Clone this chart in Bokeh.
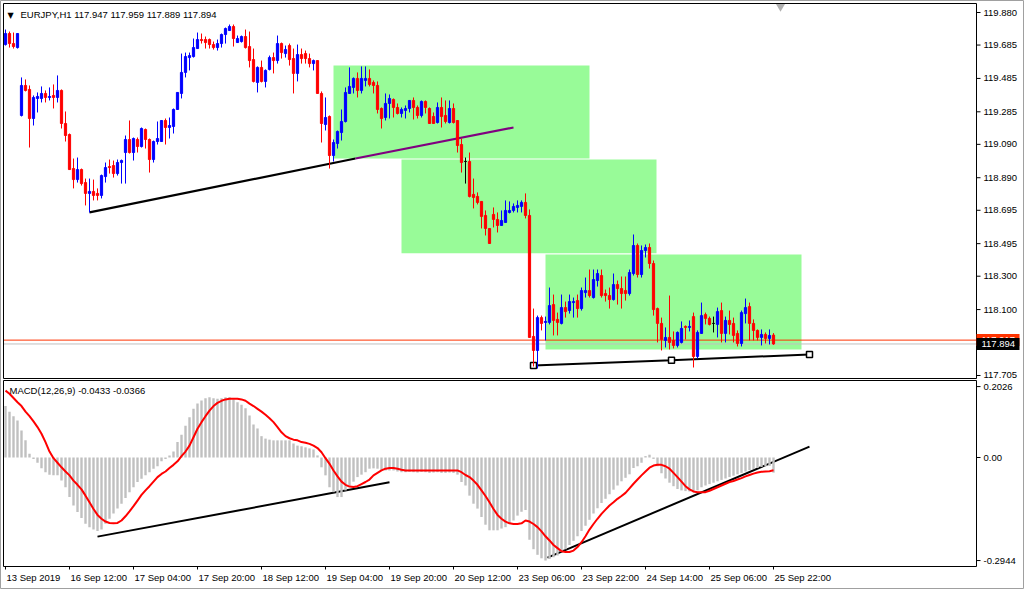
from bokeh.plotting import figure
from bokeh.models import Range1d, ColumnDataSource
from bokeh.core.properties import value
from bokeh.embed import file_html
from bokeh.resources import INLINE

FONT = "Liberation Sans"

# ---------------- data (H1 bars, index 0 = 13 Sep 2019 18:00) ----------------
opens = [119.688,119.754,119.694,119.670,119.263,119.443,119.419,119.245,119.365,119.365,
         119.395,119.371,119.383,119.371,119.413,119.215,119.149,118.945,118.879,118.939,
         118.861,118.796,118.808,118.796,118.784,118.897,118.957,118.963,118.915,118.981,
         119.041,119.119,119.041,119.119,119.077,119.179,119.119,118.999,119.107,119.107,
         119.233,119.191,119.197,119.299,119.395,119.521,119.610,119.616,119.664,119.718,
         119.718,119.718,119.688,119.670,119.694,119.748,119.772,119.796,119.700,119.706,
         119.736,119.676,119.598,119.461,119.551,119.467,119.539,119.610,119.592,119.694,
         119.634,119.682,119.604,119.515,119.628,119.634,119.604,119.574,119.592,119.395,
         119.209,119.257,119.023,119.095,119.161,119.227,119.395,119.431,119.485,119.413,
         119.473,119.485,119.461,119.443,119.305,119.251,119.335,119.359,119.311,119.275,
         119.293,119.305,119.353,119.311,119.263,119.347,119.305,119.257,119.221,119.311,
         119.263,119.221,119.305,119.233,119.089,118.987,118.987,118.790,118.778,118.748,
         118.664,118.586,118.670,118.640,118.604,118.622,118.682,118.694,118.712,118.718,
         118.742,118.664,117.939,117.855,118.052,118.023,118.023,118.130,118.041,118.017,
         118.112,118.094,118.142,118.154,118.106,118.202,118.214,118.172,118.274,118.304,
         118.196,118.184,118.160,118.250,118.226,118.214,118.196,118.316,118.484,118.310,
         118.454,118.472,118.376,118.106,118.017,117.915,117.933,117.915,117.885,117.903,
         117.999,117.993,118.058,117.819,117.957,118.070,118.047,118.017,118.011,118.094,
         117.957,118.035,118.017,117.957,117.897,118.076,118.118,118.017,117.975,117.933,
         117.951,117.927,117.947]
highs = [119.778,119.766,119.760,119.754,119.491,119.479,119.443,119.383,119.401,119.437,
         119.413,119.431,119.449,119.503,119.419,119.287,119.155,119.005,119.011,118.945,
         118.885,118.885,118.879,118.826,118.909,118.981,118.999,118.993,118.999,118.999,
         119.143,119.233,119.131,119.131,119.191,119.185,119.125,119.113,119.227,119.233,
         119.245,119.251,119.305,119.401,119.634,119.640,119.640,119.724,119.760,119.754,
         119.736,119.724,119.706,119.718,119.754,119.790,119.808,119.808,119.742,119.742,
         119.778,119.766,119.664,119.557,119.592,119.539,119.622,119.640,119.742,119.700,
         119.682,119.694,119.664,119.688,119.664,119.652,119.634,119.598,119.592,119.407,
         119.371,119.263,119.119,119.173,119.299,119.431,119.551,119.491,119.521,119.557,
         119.557,119.539,119.473,119.467,119.311,119.395,119.389,119.365,119.335,119.311,
         119.323,119.353,119.371,119.323,119.353,119.353,119.311,119.281,119.341,119.371,
         119.353,119.353,119.335,119.233,119.125,119.011,119.041,118.885,118.802,118.748,
         118.694,118.586,118.712,118.682,118.694,118.754,118.748,118.736,118.754,118.754,
         118.796,118.700,118.106,118.064,118.064,118.058,118.232,118.190,118.082,118.190,
         118.148,118.190,118.172,118.190,118.232,118.292,118.340,118.340,118.340,118.340,
         118.220,118.232,118.316,118.274,118.298,118.298,118.340,118.550,118.496,118.484,
         118.490,118.496,118.394,118.112,118.052,117.993,118.184,117.969,117.969,118.029,
         118.005,118.035,118.082,117.975,118.142,118.082,118.058,118.058,118.112,118.142,
         118.058,118.094,118.052,117.975,118.094,118.166,118.142,118.041,117.981,117.981,
         117.963,117.981,117.959]
lows = [119.682,119.670,119.664,119.664,119.257,119.407,119.071,119.203,119.281,119.341,
        119.341,119.353,119.305,119.341,119.185,119.107,118.939,118.826,118.861,118.843,
        118.724,118.682,118.754,118.754,118.766,118.861,118.915,118.891,118.903,118.855,
        118.855,119.035,118.993,119.041,119.071,119.065,118.921,118.981,119.089,119.107,
        119.089,119.125,119.155,119.299,119.365,119.491,119.533,119.610,119.664,119.694,
        119.664,119.664,119.658,119.652,119.670,119.694,119.772,119.676,119.700,119.700,
        119.664,119.551,119.461,119.401,119.461,119.431,119.533,119.515,119.574,119.604,
        119.610,119.562,119.395,119.467,119.574,119.574,119.551,119.533,119.395,119.101,
        119.173,118.945,118.987,119.065,119.113,119.221,119.395,119.395,119.371,119.395,
        119.437,119.437,119.395,119.275,119.185,119.233,119.245,119.251,119.269,119.251,
        119.245,119.281,119.239,119.245,119.251,119.275,119.215,119.215,119.215,119.191,
        119.215,119.215,119.215,119.041,118.921,118.855,118.772,118.706,118.730,118.586,
        118.544,118.496,118.592,118.562,118.604,118.622,118.676,118.682,118.682,118.682,
        118.646,117.933,117.759,117.747,117.975,117.915,118.011,117.945,117.945,118.011,
        118.052,118.076,118.052,118.052,118.094,118.172,118.172,118.166,118.238,118.172,
        118.148,118.106,118.154,118.130,118.106,118.154,118.184,118.304,118.292,118.292,
        118.412,118.346,118.064,117.903,117.855,117.873,117.861,117.867,117.873,117.897,
        117.921,117.969,117.753,117.807,117.957,118.011,118.005,117.963,117.933,117.903,
        117.903,117.951,117.903,117.879,117.879,118.017,117.915,117.915,117.915,117.885,
        117.897,117.891,117.889]
closes = [119.754,119.694,119.676,119.754,119.443,119.413,119.245,119.371,119.377,119.395,
          119.371,119.377,119.371,119.413,119.215,119.143,118.939,118.879,118.939,118.855,
          118.796,118.808,118.784,118.784,118.903,118.951,118.951,118.915,118.981,118.993,
          119.119,119.041,119.125,119.077,119.185,119.119,118.999,119.107,119.125,119.233,
          119.191,119.203,119.299,119.401,119.521,119.616,119.622,119.670,119.718,119.712,
          119.700,119.688,119.670,119.694,119.748,119.784,119.796,119.724,119.724,119.736,
          119.670,119.592,119.467,119.551,119.467,119.533,119.610,119.592,119.694,119.640,
          119.658,119.598,119.515,119.628,119.604,119.604,119.574,119.592,119.395,119.215,
          119.251,119.023,119.101,119.167,119.227,119.401,119.437,119.485,119.413,119.485,
          119.485,119.449,119.443,119.299,119.245,119.335,119.365,119.311,119.275,119.299,
          119.305,119.353,119.311,119.263,119.347,119.311,119.215,119.215,119.311,119.257,
          119.227,119.305,119.221,119.083,118.981,118.987,118.778,118.772,118.742,118.658,
          118.586,118.496,118.640,118.604,118.634,118.694,118.694,118.718,118.724,118.742,
          118.664,117.933,117.855,118.052,118.017,118.029,118.124,118.035,118.023,118.112,
          118.088,118.148,118.148,118.106,118.214,118.214,118.184,118.280,118.316,118.184,
          118.184,118.160,118.250,118.226,118.196,118.196,118.322,118.484,118.310,118.454,
          118.472,118.376,118.100,118.017,117.921,117.933,117.903,117.885,117.963,117.987,
          117.993,117.999,117.819,117.963,118.064,118.047,118.011,118.017,118.088,117.957,
          118.035,118.011,117.945,117.897,118.082,118.112,118.017,117.975,117.933,117.951,
          117.927,117.945,117.894]

macd_main = [0.147,0.131,0.118,0.106,0.077,0.049,0.011,-0.004,-0.015,-0.031,
             -0.042,-0.049,-0.051,-0.051,-0.066,-0.085,-0.113,-0.137,-0.156,-0.173,
             -0.189,-0.199,-0.206,-0.210,-0.206,-0.189,-0.175,-0.160,-0.146,-0.132,
             -0.116,-0.099,-0.085,-0.070,-0.061,-0.051,-0.042,-0.032,-0.025,-0.011,
             -0.004,0.006,0.017,0.044,0.065,0.091,0.115,0.139,0.154,0.163,
             0.169,0.172,0.169,0.168,0.169,0.172,0.172,0.166,0.158,0.151,
             0.141,0.120,0.094,0.083,0.061,0.054,0.051,0.049,0.049,0.049,
             0.049,0.049,0.040,0.034,0.032,0.029,0.026,0.023,0.006,-0.028,
             -0.051,-0.085,-0.099,-0.113,-0.113,-0.094,-0.080,-0.069,-0.056,-0.049,
             -0.042,-0.032,-0.031,-0.032,-0.037,-0.037,-0.037,-0.037,-0.040,-0.042,
             -0.042,-0.041,-0.042,-0.043,-0.041,-0.042,-0.044,-0.043,-0.042,-0.044,
             -0.044,-0.043,-0.044,-0.049,-0.070,-0.080,-0.109,-0.132,-0.146,-0.170,
             -0.192,-0.208,-0.208,-0.208,-0.203,-0.199,-0.189,-0.180,-0.166,-0.155,
             -0.150,-0.235,-0.262,-0.278,-0.288,-0.2944,-0.290,-0.285,-0.280,-0.270,
             -0.262,-0.250,-0.238,-0.225,-0.210,-0.195,-0.178,-0.160,-0.145,-0.130,
             -0.118,-0.105,-0.092,-0.080,-0.068,-0.058,-0.048,-0.030,-0.025,-0.015,
             0.004,0.008,-0.004,-0.025,-0.045,-0.060,-0.072,-0.082,-0.090,-0.094,
             -0.096,-0.097,-0.100,-0.094,-0.085,-0.080,-0.076,-0.072,-0.068,-0.064,
             -0.060,-0.056,-0.052,-0.048,-0.044,-0.040,-0.036,-0.033,-0.030,-0.027,
             -0.025,-0.024,-0.0433]
macd_signal = [0.191,0.182,0.170,0.158,0.147,0.131,0.118,0.103,0.087,0.068,
               0.044,0.017,-0.002,-0.015,-0.028,-0.040,-0.051,-0.066,-0.078,-0.091,
               -0.109,-0.128,-0.147,-0.164,-0.175,-0.183,-0.187,-0.188,-0.187,-0.180,
               -0.168,-0.154,-0.139,-0.123,-0.107,-0.094,-0.082,-0.069,-0.056,-0.047,
               -0.040,-0.030,-0.021,-0.011,0.004,0.017,0.034,0.058,0.082,0.101,
               0.118,0.134,0.147,0.156,0.162,0.166,0.168,0.168,0.168,0.166,
               0.162,0.154,0.147,0.139,0.131,0.122,0.112,0.101,0.087,0.072,
               0.061,0.055,0.051,0.049,0.044,0.042,0.039,0.034,0.027,0.015,
               -0.002,-0.018,-0.037,-0.054,-0.069,-0.078,-0.083,-0.084,-0.082,-0.076,
               -0.070,-0.063,-0.051,-0.044,-0.037,-0.032,-0.030,-0.030,-0.032,-0.035,
               -0.037,-0.037,-0.037,-0.037,-0.037,-0.037,-0.037,-0.037,-0.037,-0.037,
               -0.037,-0.037,-0.037,-0.037,-0.042,-0.050,-0.056,-0.066,-0.078,-0.094,
               -0.110,-0.128,-0.147,-0.164,-0.175,-0.183,-0.188,-0.190,-0.190,-0.188,
               -0.180,-0.183,-0.190,-0.199,-0.211,-0.225,-0.237,-0.250,-0.259,-0.268,
               -0.270,-0.270,-0.266,-0.256,-0.242,-0.225,-0.206,-0.190,-0.175,-0.161,
               -0.149,-0.137,-0.128,-0.118,-0.110,-0.101,-0.088,-0.075,-0.063,-0.051,
               -0.040,-0.029,-0.023,-0.021,-0.021,-0.025,-0.032,-0.044,-0.056,-0.069,
               -0.082,-0.091,-0.097,-0.099,-0.099,-0.099,-0.095,-0.090,-0.085,-0.080,
               -0.075,-0.070,-0.067,-0.063,-0.059,-0.054,-0.050,-0.046,-0.043,-0.041,
               -0.040,-0.039,-0.0366]

time_tick_bars = [0, 16, 32, 48, 64, 80, 96, 112, 128, 144, 160, 176, 192]
time_tick_labels = ["13 Sep 2019", "16 Sep 12:00", "17 Sep 04:00", "17 Sep 20:00",
                    "18 Sep 12:00", "19 Sep 04:00", "19 Sep 20:00", "20 Sep 12:00",
                    "23 Sep 06:00", "23 Sep 22:00", "24 Sep 14:00", "25 Sep 06:00",
                    "25 Sep 22:00"]
price_tick_labels = ["119.880", "119.685", "119.485", "119.285", "119.090", "118.890",
                     "118.695", "118.495", "118.300", "118.100", "117.705"]
macd_tick_labels = ["0.2026", "0.00", "-0.2944"]

bid_price = 117.894
ask_price = 117.917
title_text = "EURJPY,H1  117.947 117.959 117.889 117.894"
macd_text = "MACD(12,26,9) -0.0433 -0.0366"

# zones (bar index from/to, price top/bottom)
zone_left = [82, 99, 135]
zone_right = [146, 162.75, 199]
zone_top = [119.562, 118.999, 118.430]
zone_bottom = [119.005, 118.438, 117.861]

# trend lines on price pane
trend_x0 = [21, 87.5]
trend_y0 = [118.682, 119.005]
trend_x1 = [87.5, 127]
trend_y1 = [119.005, 119.191]
trend_col = ["#000000", "#800080"]
support_x = [132, 166.5, 201]
support_y = [117.765, 117.797, 117.831]

# trend lines on MACD pane
mtl_x0 = [23, 135.5]
mtl_y0 = [-0.226, -0.286]
mtl_x1 = [96, 201]
mtl_y1 = [-0.071, 0.031]

# visible ranges of the two panes
bar_lo, bar_hi = -0.5, 242.75
price_lo, price_hi = 117.687, 119.934
macd_lo, macd_hi = -0.3114, 0.2200

# ---------------- canvas geometry (pixels) ----------------
W, H = 1024, 589
L, R = 3, 976            # pane left / right edge
T1, B1 = 3, 378          # price pane
T2, B2 = 380, 566        # MACD pane

ppb = (R - L) / (bar_hi - bar_lo)
ppx = (price_hi - price_lo) / (B1 - T1)
mpx = (macd_hi - macd_lo) / (B2 - T2)

def px2bar(px):
    return bar_lo + (px - L) / ppb

def py2price(py):
    return price_hi - (py - T1) * ppx

def py2macd(py):
    return macd_hi - (py - T2) * mpx

p = figure(width=W, height=H, x_range=Range1d(px2bar(0), px2bar(W)),
           y_range=Range1d(py2price(H), py2price(0)),
           min_border_left=0, min_border_right=0, min_border_top=0, min_border_bottom=0,
           x_axis_location=None, y_axis_location=None,
           toolbar_location=None, output_backend="svg",
           background_fill_color="white", border_fill_color="white")
p.extra_y_ranges = {"macd": Range1d(py2macd(H), py2macd(0))}
p.grid.visible = False
p.outline_line_color = "#a0a0a0"

n = len(opens)
xs = list(range(n))
cols = ["#0000ff" if c > o else ("#ff0000" if c < o else "#000000") for o, c in zip(opens, closes)]
src = ColumnDataSource(dict(x=xs, o=opens, h=highs, l=lows, c=closes,
                            top=[max(o, c) for o, c in zip(opens, closes)],
                            bot=[min(o, c) for o, c in zip(opens, closes)], col=cols))

# ---- price pane ----
p.quad(left=zone_left, right=zone_right, top=zone_top, bottom=zone_bottom,
       fill_color="#98fb98", line_color=None)
p.segment(x0=trend_x0, y0=trend_y0, x1=trend_x1, y1=trend_y1, line_color=trend_col, line_width=2.2)
p.line(x=support_x, y=support_y, line_color="black", line_width=2)
p.scatter(x=support_x, y=support_y, marker="square", size=6, fill_color="white",
          line_color="black", line_width=1.5)
p.line(x=[bar_lo, bar_hi], y=[ask_price, ask_price], line_color="#ff3300", line_width=1)
p.line(x=[bar_lo, bar_hi], y=[bid_price, bid_price], line_color="#c0c0c0", line_width=1)
p.segment(x0="x", y0="h", x1="x", y1="l", line_color="col", line_width=1, source=src)
p.vbar(x="x", width=0.55, top="top", bottom="bot", fill_color="col", line_color="col",
       line_width=1, source=src)
p.quad(left=[bar_lo], right=[bar_hi], top=[price_hi], bottom=[price_lo],
       fill_color=None, line_color="black", line_width=1)
p.scatter(x=[n + 0.75], y=[py2price(T1 + 3)], marker="inverted_triangle", size=9,
          fill_color="#b0b0b0", line_color=None)

# price axis
pt = [float(s) for s in price_tick_labels]
p.segment(x0=[bar_hi] * len(pt), y0=pt, x1=[px2bar(R + 4)] * len(pt), y1=pt,
          line_color="black", line_width=1)
p.text(x=[px2bar(R + 7)] * len(pt), y=pt, text=price_tick_labels,
       text_font=value(FONT), text_font_size="9.5px", text_baseline="middle",
       text_align="left", text_color="black")
# ask / bid tags
tag_h = 6 * ppx
p.quad(left=[bar_hi], right=[px2bar(W - 5)], top=[ask_price + tag_h], bottom=[ask_price - tag_h],
       fill_color="#ff3300", line_color=None)
p.text(x=[px2bar(R + 5)], y=[ask_price], text=["117.917"], text_font=value(FONT),
       text_font_size="9.5px", text_baseline="middle", text_color="white")
p.quad(left=[bar_hi], right=[px2bar(W - 5)], top=[bid_price + tag_h], bottom=[bid_price - tag_h],
       fill_color="black", line_color=None)
p.text(x=[px2bar(R + 5)], y=[bid_price], text=["117.894"], text_font=value(FONT),
       text_font_size="9.5px", text_baseline="middle", text_color="white")

# title
p.text(x=[px2bar(L + 4)], y=[py2price(T1 + 7)], text=["\u25bc"], text_font=value("DejaVu Sans"),
       text_font_size="8px", text_baseline="top", text_color="black")
p.text(x=[px2bar(L + 17)], y=[py2price(T1 + 5)], text=[title_text], text_font=value(FONT),
       text_font_size="9.5px", text_baseline="top", text_color="black")

# ---- MACD pane ----
p.segment(x0=mtl_x0, y0=mtl_y0, x1=mtl_x1, y1=mtl_y1, line_color="black", line_width=2,
          y_range_name="macd")
p.vbar(x=xs, width=0.6, top=macd_main, bottom=0, fill_color="#c0c0c0", line_color=None,
       y_range_name="macd")
p.line(x=xs, y=macd_signal, line_color="#ff0000", line_width=2, y_range_name="macd")
p.quad(left=[bar_lo], right=[bar_hi], top=[macd_hi], bottom=[macd_lo],
       fill_color=None, line_color="black", line_width=1, y_range_name="macd")

mt = [float(s) for s in macd_tick_labels]
p.segment(x0=[bar_hi] * len(mt), y0=mt, x1=[px2bar(R + 4)] * len(mt), y1=mt,
          line_color="black", line_width=1, y_range_name="macd")
p.text(x=[px2bar(R + 7)] * len(mt), y=mt, text=macd_tick_labels,
       text_font=value(FONT), text_font_size="9.5px", text_baseline="middle",
       text_align="left", text_color="black", y_range_name="macd")
p.text(x=[px2bar(L + 6)], y=[py2macd(T2 + 4)], text=[macd_text], text_font=value(FONT),
       text_font_size="9.5px", text_baseline="top", text_color="black", y_range_name="macd")

# time axis
p.segment(x0=time_tick_bars, y0=[macd_lo] * len(time_tick_bars), x1=time_tick_bars,
          y1=[py2macd(B2 + 3)] * len(time_tick_bars), line_color="black", line_width=1,
          y_range_name="macd")
p.text(x=time_tick_bars, y=[py2macd(B2 + 5)] * len(time_tick_bars), text=time_tick_labels,
       x_offset=1, text_font=value(FONT), text_font_size="9.5px", text_baseline="top",
       text_align="left", text_color="black", y_range_name="macd")

open("out.html", "w").write(file_html(p, INLINE, "EURJPY,H1"))
